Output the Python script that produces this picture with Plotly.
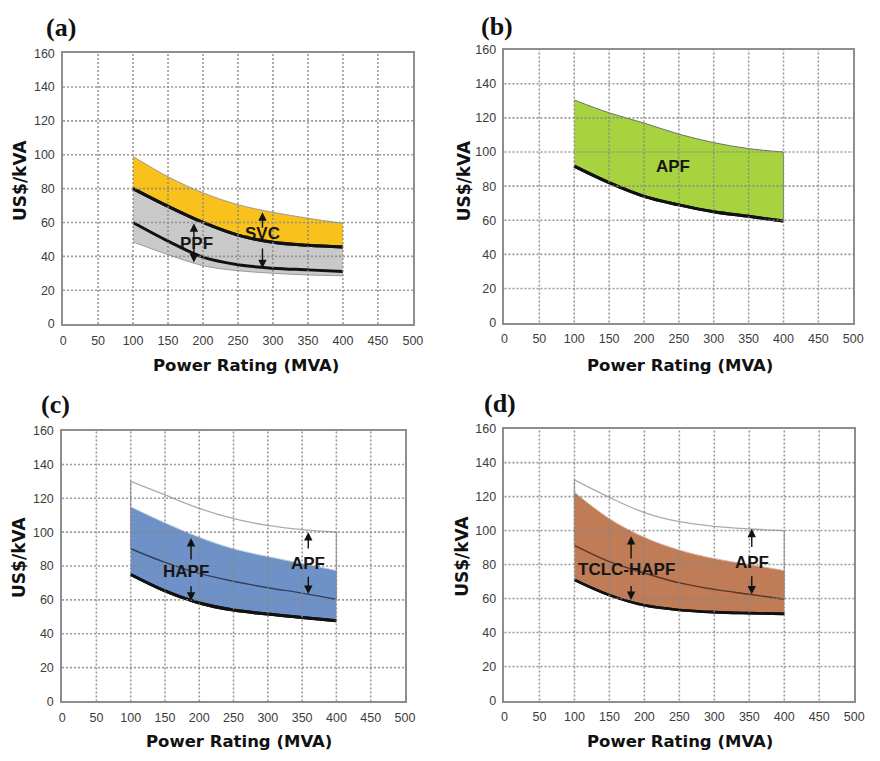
import plotly.graph_objects as go

# Power rating samples (MVA) shared by every band
power_mva = [100, 150, 200, 250, 300, 350, 400]
x_ticks = [0, 50, 100, 150, 200, 250, 300, 350, 400, 450, 500]
y_ticks = [0, 20, 40, 60, 80, 100, 120, 140, 160]

# (a) SVC and PPF cost bands, US$/kVA
svc_upper = [99, 87, 77.5, 70.5, 66, 62.5, 59.5]
svc_ppf_boundary = [80, 69.5, 60, 52.5, 48.3, 46.5, 45.5]
ppf_mid = [60, 49, 39.5, 35, 33, 32, 31]
ppf_lower = [48.5, 41, 34.5, 31.5, 30, 29, 28.5]

# (b) APF cost band
apf_upper = [130.5, 123, 117, 110.5, 105.5, 102, 100]
apf_lower = [91.7, 82, 74, 69, 65, 62.3, 59.5]

# (c) HAPF band against the APF band
apf_upper_c = [130, 122, 114, 108, 104, 101.5, 100]
hapf_upper = [115, 105.5, 97, 90.2, 85.6, 81.5, 77.4]
apf_lower_c = [90.2, 82.2, 75.7, 71, 67.2, 64, 60.2]
hapf_lower = [75, 65.3, 58.2, 54, 51.6, 49.6, 47.7]

# (d) TCLC-HAPF band against the APF band
apf_upper_d = [129.8, 119.5, 110.6, 105.2, 102.5, 101, 100]
tclc_upper = [122.5, 107, 96, 88.5, 83.5, 80, 76.5]
apf_lower_d = [91.3, 81.7, 75, 69.2, 65.4, 62.5, 59.6]
tclc_lower = [71, 62, 56, 53.3, 52, 51.4, 51]

W, H = 880, 761

# subplot frames in pixels: (left, right, top, bottom)
frames = {
    "a": (61, 416, 47, 323),
    "b": (509, 863, 43.5, 321.5),
    "c": (60, 408, 431.5, 707.5),
    "d": (509, 864, 429.5, 706.5),
}
axis_ids = {"a": ("x", "y"), "b": ("x2", "y2"), "c": ("x3", "y3"), "d": ("x4", "y4")}

YELLOW = "#F8C11C"
GREY_FILL = "#C9C9C9"
GREEN = "#A7D43E"
BLUE = "#6E91C7"
BROWN = "#BF7C57"

fig = go.Figure()


def curve(panel, y, color, width, fill=None, fillcolor=None):
    xa, ya = axis_ids[panel]
    fig.add_trace(go.Scatter(
        x=power_mva, y=y, mode="lines",
        line=dict(color=color, width=width, shape="spline", smoothing=1.0),
        fill=fill, fillcolor=fillcolor, xaxis=xa, yaxis=ya,
        hoverinfo="skip", showlegend=False,
    ))


def edge(panel, xv, y0, y1, color, width):
    xa, ya = axis_ids[panel]
    fig.add_trace(go.Scatter(
        x=[xv, xv], y=[y0, y1], mode="lines",
        line=dict(color=color, width=width), xaxis=xa, yaxis=ya,
        hoverinfo="skip", showlegend=False,
    ))


# (a) grey PPF band under the yellow SVC band
curve("a", ppf_lower, "#9a9a9a", 1)
curve("a", svc_ppf_boundary, "#111111", 3, fill="tonexty", fillcolor=GREY_FILL)
curve("a", svc_upper, "#9a9a9a", 1, fill="tonexty", fillcolor=YELLOW)
curve("a", ppf_mid, "#111111", 3)
curve("a", svc_ppf_boundary, "#111111", 3)

# (b) green APF band
curve("b", apf_lower, "#111111", 3)
curve("b", apf_upper, "#707070", 1, fill="tonexty", fillcolor=GREEN)
curve("b", apf_lower, "#111111", 3)
edge("b", power_mva[-1], apf_lower[-1], apf_upper[-1], "#8a8a8a", 1)

# (c) APF outline, blue HAPF band, APF lower bound
curve("c", apf_upper_c, "#ababab", 1.3)
edge("c", power_mva[0], apf_lower_c[0], apf_upper_c[0], "#ababab", 1.3)
edge("c", power_mva[-1], apf_lower_c[-1], apf_upper_c[-1], "#ababab", 1.3)
curve("c", hapf_lower, "#111111", 3)
curve("c", hapf_upper, "#c4cfe0", 1, fill="tonexty", fillcolor=BLUE)
curve("c", apf_lower_c, "#34405a", 1.4)
curve("c", hapf_lower, "#111111", 3)

# (d) APF outline, brown TCLC-HAPF band, APF lower bound
curve("d", apf_upper_d, "#ababab", 1.3)
edge("d", power_mva[0], apf_lower_d[0], apf_upper_d[0], "#ababab", 1.3)
edge("d", power_mva[-1], apf_lower_d[-1], apf_upper_d[-1], "#ababab", 1.3)
curve("d", tclc_lower, "#111111", 2.6)
curve("d", tclc_upper, "#d9b8a4", 1, fill="tonexty", fillcolor=BROWN)
curve("d", apf_lower_d, "#5a3626", 1.4)
curve("d", tclc_lower, "#111111", 2.6)

# axes
layout_axes = {}
for key, (l, r, t, b) in frames.items():
    xa, ya = axis_ids[key]
    xname = "xaxis" if xa == "x" else "xaxis" + xa[1:]
    yname = "yaxis" if ya == "y" else "yaxis" + ya[1:]
    common = dict(
        showgrid=False, zeroline=False, showline=True, linecolor="#8e8e8e",
        linewidth=1.6, mirror=True, ticks="", fixedrange=True,
        tickfont=dict(family="Liberation Sans", size=12.5, color="#3c3c3c"),
        ticklabelstandoff=4,
    )
    layout_axes[xname] = dict(common, domain=[l / W, r / W], range=[0, 500],
                              tickvals=x_ticks, anchor=ya)
    layout_axes[yname] = dict(common, domain=[1 - b / H, 1 - t / H], range=[0, 160],
                              tickvals=y_ticks, anchor=xa)

# dotted grid drawn over the bands
shapes = []
grid_line = dict(color="rgba(135,135,135,0.85)", width=1.6, dash="2px,2px")
for key in frames:
    xa, ya = axis_ids[key]
    for xv in x_ticks[1:-1]:
        shapes.append(dict(type="line", xref=xa, yref=ya + " domain", x0=xv, x1=xv,
                           y0=0, y1=1, line=grid_line, layer="above"))
    for yv in y_ticks[1:-1]:
        shapes.append(dict(type="line", xref=xa + " domain", yref=ya, x0=0, x1=1,
                           y0=yv, y1=yv, line=grid_line, layer="above"))

annotations = []


def arrow(panel, xv, y_tail, y_head, both=False):
    xa, ya = axis_ids[panel]
    a = dict(xref=xa, yref=ya, axref=xa, ayref=ya, x=xv, y=y_head, ax=xv, ay=y_tail,
             text="", showarrow=True, arrowhead=2, arrowsize=1.2, arrowwidth=1.4,
             arrowcolor="#111111", standoff=0, startstandoff=0)
    if both:
        a.update(arrowside="end+start", startarrowhead=2, startarrowsize=1.2)
    annotations.append(a)


def label(panel, xv, yv, text):
    xa, ya = axis_ids[panel]
    annotations.append(dict(xref=xa, yref=ya, x=xv, y=yv, text=text, showarrow=False,
                            font=dict(family="Liberation Sans", size=17,
                                      color="#161616", weight="bold")))


# (a)
arrow("a", 187, 35.5, 59.5, both=True)
arrow("a", 285, 56, 66)
arrow("a", 285, 45.5, 33)
label("a", 191, 47.6, "PPF")
label("a", 285, 53.2, "SVC")
# (b)
label("b", 241, 91.6, "APF")
# (c)
arrow("c", 188, 83, 96.5)
arrow("c", 188, 69, 59.5)
arrow("c", 359, 89.5, 100)
arrow("c", 359, 74.5, 63.5)
label("c", 181, 76.5, "HAPF")
label("c", 359, 81.4, "APF")
# (d)
arrow("d", 181, 82.7, 96.7)
arrow("d", 181, 68.3, 59.2)
arrow("d", 353.5, 89.4, 101)
arrow("d", 353.5, 74, 62.5)
label("d", 174, 77, "TCLC-HAPF")
label("d", 354.5, 81.3, "APF")

# panel letters and axis titles
panel_letters = {"a": (59, 21), "b": (501, 20), "c": (53, 405), "d": (504, 404)}
x_title_pos = {"a": (247, 365), "b": (687.5, 365), "c": (240, 748), "d": (687.5, 748)}
y_title_pos = {"a": (17.5, 177), "b": (467.5, 177), "c": (15.5, 561), "d": (466, 560)}

for key in frames:
    px, py = panel_letters[key]
    annotations.append(dict(xref="paper", yref="paper", x=px / W, y=1 - py / H,
                            text="(" + key + ")", showarrow=False,
                            xanchor="center", yanchor="middle",
                            font=dict(family="Liberation Serif", size=26,
                                      color="#111111", weight="bold")))
    tx, ty = x_title_pos[key]
    annotations.append(dict(xref="paper", yref="paper", x=tx / W, y=1 - ty / H,
                            text="Power Rating (MVA)", showarrow=False,
                            xanchor="center", yanchor="middle",
                            font=dict(family="DejaVu Sans", size=16.5,
                                      color="#111111", weight="bold")))
    tx, ty = y_title_pos[key]
    annotations.append(dict(xref="paper", yref="paper", x=tx / W, y=1 - ty / H,
                            text="US$/kVA", showarrow=False, textangle=-90,
                            xanchor="center", yanchor="middle",
                            font=dict(family="DejaVu Sans", size=17,
                                      color="#111111", weight="bold")))

fig.update_layout(
    width=W, height=H, autosize=False,
    margin=dict(l=0, r=0, t=0, b=0),
    paper_bgcolor="white", plot_bgcolor="white",
    showlegend=False, shapes=shapes, annotations=annotations,
    **layout_axes,
)

fig.write_html("out.html")
